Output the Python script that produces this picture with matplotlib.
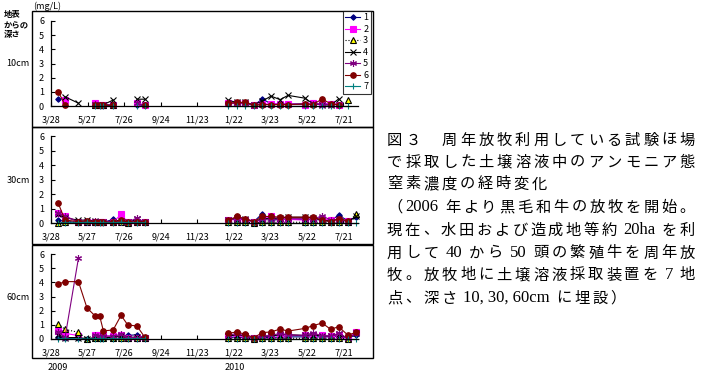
import numpy as np
import matplotlib
matplotlib.use("Agg")
import matplotlib.pyplot as plt
from matplotlib.patches import Rectangle

plt.rcParams['font.family'] = ['Noto Sans CJK JP', 'DejaVu Sans']

N = np.nan

# sampling dates
dates09 = ['2009-04-09', '2009-04-20', '2009-05-12', '2009-05-26', '2009-06-09', '2009-06-16',
           '2009-06-22', '2009-07-08', '2009-07-21', '2009-08-01', '2009-08-16', '2009-08-29']
dates10 = ['2010-01-13', '2010-01-27', '2010-02-10', '2010-02-24', '2010-03-10', '2010-03-24',
           '2010-04-08', '2010-04-21', '2010-05-19', '2010-06-01', '2010-06-16', '2010-06-30',
           '2010-07-13', '2010-07-28', '2010-08-11']

tick_dates = ['2009-03-28', '2009-05-27', '2009-07-26', '2009-09-24', '2009-11-23',
              '2010-01-22', '2010-03-23', '2010-05-22', '2010-07-21']
tick_labels = ['3/28', '5/27', '7/26', '9/24', '11/23', '1/22', '3/23', '5/22', '7/21']

series_names = ['1', '2', '3', '4', '5', '6', '7']
depth_labels = ['10cm', '30cm', '60cm']

# 10cm
d10_09 = [
    [0.5, N, N, N, 0.05, 0.05, 0.05, 0.1, N, N, 0.05, 0.05],
    [N, 0.4, N, N, 0.2, 0.05, 0.05, 0.05, N, N, 0.2, 0.05],
    [N, N, N, N, 0.05, 0.05, 0.05, 0.1, N, N, N, N],
    [N, 0.65, 0.2, N, 0.1, 0.05, 0.1, 0.42, N, N, 0.48, 0.48],
    [N, N, N, N, 0.15, 0.05, 0.05, 0.05, N, N, 0.2, 0.05],
    [1.0, 0.08, N, N, 0.05, 0.05, 0.05, 0.05, N, N, N, 0.05],
    [N, N, N, N, 0.0, 0.0, 0.0, 0.0, N, N, 0.0, 0.0],
]
d10_10 = [
    [0.15, 0.2, 0.15, 0.05, 0.5, 0.15, 0.15, 0.15, 0.15, 0.15, 0.15, 0.15, 0.1, N, N],
    [0.2, 0.2, 0.2, 0.1, 0.15, 0.15, 0.15, 0.15, 0.1, 0.2, 0.15, 0.15, 0.1, N, N],
    [N, N, N, N, N, N, N, N, N, N, N, N, N, 0.45, N],
    [0.4, 0.25, 0.25, 0.1, 0.35, 0.7, 0.45, 0.75, 0.55, 0.15, 0.1, 0.05, 0.5, N, N],
    [0.2, 0.2, 0.2, 0.1, 0.1, 0.1, 0.1, 0.1, 0.1, 0.15, 0.1, 0.1, 0.1, N, N],
    [0.2, 0.25, 0.25, 0.05, 0.1, 0.1, 0.1, 0.1, 0.15, 0.1, 0.5, 0.15, 0.1, N, N],
    [0.0, 0.0, 0.0, 0.0, 0.0, 0.0, 0.0, 0.0, 0.0, 0.0, 0.0, 0.0, 0.0, 0.0, N],
]

# 30cm
d30_09 = [
    [0.2, 0.1, 0.05, 0.05, 0.05, 0.05, 0.05, 0.25, 0.1, 0.05, 0.1, 0.05],
    [0.7, 0.5, 0.05, 0.1, 0.1, 0.1, 0.05, 0.05, 0.6, 0.05, 0.1, 0.05],
    [0.02, 0.05, 0.05, 0.1, 0.1, 0.05, 0.05, 0.05, 0.05, 0.02, 0.05, 0.05],
    [0.6, 0.35, 0.2, 0.2, 0.15, 0.1, 0.1, 0.1, 0.15, 0.05, 0.25, 0.05],
    [0.7, 0.45, 0.1, 0.1, 0.15, 0.1, 0.1, 0.1, 0.1, 0.05, 0.35, 0.05],
    [1.35, 0.2, 0.1, 0.15, 0.1, 0.1, 0.05, 0.05, 0.2, 0.05, 0.1, 0.05],
    [0.0, 0.02, 0.02, 0.05, 0.02, 0.02, 0.02, 0.02, 0.05, 0.02, 0.02, 0.02],
]
d30_10 = [
    [0.2, 0.3, 0.2, 0.1, 0.65, 0.2, 0.25, 0.25, 0.25, 0.25, 0.2, 0.15, 0.55, 0.15, 0.4],
    [0.2, 0.25, 0.2, 0.1, 0.2, 0.5, 0.25, 0.25, 0.2, 0.25, 0.3, 0.2, 0.2, 0.15, N],
    [0.05, 0.05, 0.05, 0.02, 0.05, 0.05, 0.05, 0.05, 0.05, 0.05, 0.05, 0.05, 0.05, 0.05, 0.6],
    [0.2, 0.35, 0.25, 0.1, 0.3, 0.3, 0.35, 0.4, 0.4, 0.35, 0.2, 0.1, 0.3, 0.1, 0.45],
    [0.2, 0.3, 0.3, 0.1, 0.25, 0.2, 0.25, 0.3, 0.3, 0.25, 0.5, 0.2, 0.25, 0.1, N],
    [0.2, 0.45, 0.3, 0.1, 0.45, 0.45, 0.4, 0.4, 0.4, 0.4, 0.2, 0.1, 0.3, 0.15, N],
    [0.02, 0.02, 0.02, 0.02, 0.02, 0.02, 0.02, 0.02, 0.02, 0.02, 0.02, 0.02, 0.02, 0.02, 0.02],
]

# 60cm
d60_09 = [
    [0.17, 0.05, 0.05, 0.02, 0.05, 0.05, 0.1, 0.15, 0.25, 0.25, 0.3, 0.05],
    [0.56, 0.4, 0.24, N, 0.28, 0.25, 0.25, 0.2, 0.3, 0.05, 0.05, 0.05],
    [1.06, 0.68, 0.47, 0.0, 0.05, 0.05, 0.05, 0.05, 0.1, 0.05, 0.05, 0.05],
    [0.3, 0.1, 0.1, 0.02, 0.1, 0.1, 0.1, 0.1, 0.2, 0.1, 0.15, 0.05],
    [0.5, 0.1, 5.7, N, 0.25, 0.2, 0.2, 0.2, 0.33, 0.1, 0.1, 0.05],
    [3.88, 4.05, 4.05, 2.2, 1.6, 1.6, 0.57, 0.64, 1.67, 0.99, 0.92, 0.12],
    [0.02, 0.02, 0.02, 0.0, 0.02, 0.02, 0.02, 0.02, 0.02, 0.02, 0.02, 0.02],
]
d60_10 = [
    [0.1, 0.15, 0.1, 0.05, 0.1, 0.1, 0.15, 0.15, 0.15, 0.15, 0.15, 0.15, 0.2, 0.05, 0.3],
    [0.2, 0.25, 0.2, 0.1, 0.2, 0.2, 0.3, 0.25, 0.25, 0.3, 0.3, 0.2, 0.25, 0.05, 0.5],
    [0.05, 0.1, 0.05, 0.02, 0.05, 0.05, 0.05, 0.05, 0.05, 0.05, 0.05, 0.05, 0.05, 0.02, N],
    [0.2, 0.3, 0.2, 0.05, 0.2, 0.2, 0.3, 0.3, 0.25, 0.3, 0.2, 0.2, 0.35, 0.05, 0.4],
    [0.25, 0.4, 0.2, 0.05, 0.2, 0.25, 0.4, 0.3, 0.25, 0.45, 0.2, 0.2, 0.4, 0.05, 0.4],
    [0.4, 0.5, 0.33, 0.1, 0.45, 0.5, 0.7, 0.56, 0.75, 0.94, 1.13, 0.68, 0.87, 0.28, 0.47],
    [0.02, 0.02, 0.02, 0.02, 0.02, 0.02, 0.02, 0.02, 0.02, 0.02, 0.02, 0.02, 0.02, 0.02, 0.02],
]

panels = [(d10_09, d10_10), (d30_09, d30_10), (d60_09, d60_10)]

caption = [
    '図３　周年放牧利用している試験ほ場',
    'で採取した土壌溶液中のアンモニア態',
    '窒素濃度の経時変化',
    '（2006 年より黒毛和牛の放牧を開始。',
    '現在、水田および造成地等約 20ha を利',
    '用して 40 から 50 頭の繁殖牛を周年放',
    '牧。放牧地に土壌溶液採取装置を 7 地',
    '点、深さ 10, 30, 60cm に埋設）',
]
justify = [True, True, False, True, True, True, True, False]

# styles
colors = ['#000080', '#FF00FF', '#000000', '#000000', '#800080', '#800000', '#008080']
markers = ['D', 's', '^', 'x', (6, 2, 0), 'o', '+']
mfaces = ['#000080', '#FF00FF', '#FFFF00', 'none', '#800080', '#800000', '#008080']
msizes = [2.8, 4, 4, 4, 5, 4, 5]
lstyles = ['-', '-', ':', '-', '-', '-', '-']

W, H = 704, 377
fig = plt.figure(figsize=(W / 100, H / 100), dpi=100)

def fx(px):
    return px / W

def fy(py):
    return 1 - py / H

# plot areas (pixel boxes: top, bottom of y axis)
areas = [(21, 106), (136, 223), (254, 339)]
frames = [(11, 127), (127, 244), (245, 358)]
label_y = [63, 181, 297]

x09 = np.array(dates09, dtype='datetime64[D]')
x10 = np.array(dates10, dtype='datetime64[D]')
tx = np.array(tick_dates, dtype='datetime64[D]')

handles = []
for k, (p09, p10) in enumerate(panels):
    top, bot = areas[k]
    ax = fig.add_axes([fx(51), fy(bot), fx(357.5) - fx(51), (bot - top) / H])
    for i in range(7):
        for xx, yy in ((x09, p09[i]), (x10, p10[i])):
            ln, = ax.plot(xx, yy, color=colors[i], ls=lstyles[i], lw=0.8,
                          marker=markers[i], ms=msizes[i], mfc=mfaces[i],
                          mec='black' if i == 2 else colors[i], mew=0.8,
                          clip_on=False)
        if k == 0:
            handles.append(ln)
    ax.set_xlim(np.datetime64('2009-03-28'), np.datetime64('2010-08-13'))
    ax.set_ylim(0, 6)
    ax.set_yticks(range(7))
    ax.set_xticks(tx)
    ax.set_xticklabels(tick_labels)
    ax.tick_params(direction='in', length=3, width=0.8, labelsize=6.5)
    ax.tick_params(axis='x', pad=7)
    ax.tick_params(axis='y', pad=5)
    for s in ('top', 'right'):
        ax.spines[s].set_visible(False)
    for s in ('left', 'bottom'):
        ax.spines[s].set_linewidth(0.9)
    ax.patch.set_alpha(0)

    t, b = frames[k]
    fig.patches.append(Rectangle((fx(32), fy(b)), fx(373) - fx(32), (b - t) / H,
                                 transform=fig.transFigure, fill=False,
                                 edgecolor='black', lw=1.0))
    fig.text(fx(18), fy(label_y[k]), depth_labels[k], fontsize=6.5, ha='center', va='center')

leg = fig.legend(handles, series_names, loc='upper right',
                 bbox_to_anchor=(fx(370.5), fy(11)), fontsize=6.5, frameon=True,
                 fancybox=False, edgecolor='black', handlelength=1.7,
                 handletextpad=0.3, labelspacing=0.28, borderpad=0.25,
                 borderaxespad=0)
leg.get_frame().set_linewidth(0.8)

fig.text(fx(33), fy(6), '(mg/L)', fontsize=6.5, ha='left', va='center')
fig.text(fx(4), fy(15), '地表', fontsize=6, ha='left', va='center', fontweight='bold')
fig.text(fx(4), fy(26), 'からの', fontsize=6, ha='left', va='center', fontweight='bold')
fig.text(fx(4), fy(35), '深さ', fontsize=6, ha='left', va='center', fontweight='bold')
fig.text(fx(58), fy(368), '2009', fontsize=6.5, ha='center', va='center')
fig.text(fx(235), fy(368), '2010', fontsize=6.5, ha='center', va='center')

# caption, laid out token by token
renderer = fig.canvas.get_renderer()
em = 11 * 100 / 72
x_left, x_right = 387, 695
line_y = [140, 162, 184, 207, 230, 253, 275, 298]


def tokenize(s):
    # full-width chars one by one, ascii runs (with inner spaces) kept together
    toks = []
    run = ''
    for ch in s:
        if ord(ch) < 128:
            run += ch
            continue
        if run:
            toks.append(run)
            run = ''
        toks.append(ch)
    if run:
        toks.append(run)
    return toks


for line, just, yy in zip(caption, justify, line_y):
    toks = tokenize(line)
    objs, widths = [], []
    for tk in toks:
        if ord(tk[0]) < 128:
            core = tk.strip()
            pad = 0.25 * em * ((tk != tk.lstrip()) + (tk != tk.rstrip()))
            t = fig.text(0, fy(yy), core, fontsize=12, ha='left', va='center',
                         family=['Liberation Serif', 'Noto Sans CJK JP'])
            w = t.get_window_extent(renderer).width
            lead = 0.25 * em if tk != tk.lstrip() else 0
            objs.append((t, lead))
            widths.append(w + pad)
        else:
            t = fig.text(0, fy(yy), tk, fontsize=11, ha='left', va='center')
            objs.append((t, 0))
            widths.append(em)
    if just:
        gap = (x_right - x_left - sum(widths)) / (len(toks) - 1)
    else:
        gap = 2.8
    x = x_left
    for (t, lead), w in zip(objs, widths):
        t.set_x(fx(x + lead))
        x += w + gap

fig.savefig('out.png', dpi=100)
